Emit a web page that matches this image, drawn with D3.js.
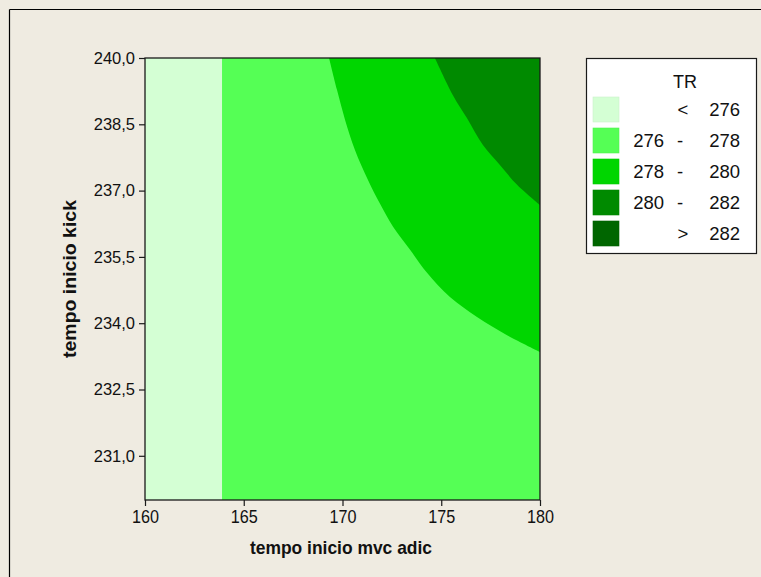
<!DOCTYPE html>
<html>
<head>
<meta charset="utf-8">
<script src="https://cdn.jsdelivr.net/npm/d3@7"></script>
<style>
  html, body { margin: 0; padding: 0; background: #efebe1; }
  svg { display: block; }
</style>
</head>
<body>
<svg id="chart" width="761" height="577"></svg>
<script>
// ---- data ----
const xTicks = [160, 165, 170, 175, 180];
const yTicks = [231, 232.5, 234, 235.5, 237, 238.5, 240];
const xDomain = [160, 180];
const yDomain = [230, 240];

// contour boundaries (x = tempo inicio mvc adic, y = tempo inicio kick)
const boundary276 = [[163.9, 240], [163.9, 230]];
const boundary278 = [
  [169.32, 240], [169.72, 239.28], [170.13, 238.60], [170.63, 237.92],
  [171.29, 237.24], [171.90, 236.70], [172.56, 236.18], [173.42, 235.66],
  [174.28, 235.14], [175.44, 234.59], [176.81, 234.14], [178.33, 233.73],
  [180, 233.35]
];
const boundary280 = [
  [174.68, 240], [175.59, 239.16], [176.30, 238.64], [177.11, 238.03],
  [177.97, 237.58], [178.84, 237.13], [180, 236.67]
];

const legendTitle = "TR";
const legendLow = ["", "276", "278", "280", ""];
const legendSep = ["<", "-", "-", "-", ">"];
const legendHigh = ["276", "278", "280", "282", "282"];
const levelColors = ["#d4ffd4", "#55ff55", "#00d600", "#008a00", "#006600"];

// ---- layout ----
const svg = d3.select("#chart");
const plot = { left: 145, top: 58, right: 540, bottom: 500 };

const x = d3.scaleLinear().domain(xDomain).range([plot.left, plot.right]);
const y = d3.scaleLinear().domain(yDomain).range([plot.bottom, plot.top]);

// outer frame (left + top lines)
svg.append("line").attr("x1", 9.5).attr("y1", 9.5).attr("x2", 761).attr("y2", 9.5)
  .attr("stroke", "#000").attr("stroke-width", 1.2);
svg.append("line").attr("x1", 9.5).attr("y1", 9.5).attr("x2", 9.5).attr("y2", 577)
  .attr("stroke", "#000").attr("stroke-width", 1.2);

// clip
svg.append("clipPath").attr("id", "clip").append("rect")
  .attr("x", plot.left).attr("y", plot.top)
  .attr("width", plot.right - plot.left).attr("height", plot.bottom - plot.top);

const g = svg.append("g").attr("clip-path", "url(#clip)");

// base level
g.append("rect")
  .attr("x", x(xDomain[0])).attr("y", y(yDomain[1]))
  .attr("width", x(xDomain[1]) - x(xDomain[0]))
  .attr("height", y(yDomain[0]) - y(yDomain[1]))
  .attr("fill", levelColors[0]);

const line = d3.line().x(d => x(d[0])).y(d => y(d[1])).curve(d3.curveCatmullRom);
function region(boundary, corners) {
  let p = line(boundary);
  corners.forEach(c => { p += "L" + x(c[0]) + "," + y(c[1]); });
  return p + "Z";
}

g.append("path").attr("d", region(boundary276, [[180, 230], [180, 240]]))
  .attr("fill", levelColors[1]);
g.append("path").attr("d", region(boundary278, [[180, 240]]))
  .attr("fill", levelColors[2]);
g.append("path").attr("d", region(boundary280, [[180, 240]]))
  .attr("fill", levelColors[3]);

// plot border
svg.append("rect")
  .attr("x", plot.left).attr("y", plot.top)
  .attr("width", plot.right - plot.left).attr("height", plot.bottom - plot.top)
  .attr("fill", "none").attr("stroke", "#1a1a1a").attr("stroke-width", 1.3);

// axes
const fmtY = d => d3.format(".1f")(d).replace(".", ",");
const xAxis = svg.append("g").attr("transform", `translate(0,${plot.bottom})`)
  .call(d3.axisBottom(x).tickValues(xTicks).tickSize(6).tickSizeOuter(0).tickPadding(4).tickFormat(d3.format("d")));
xAxis.select(".domain").remove();
xAxis.selectAll("line").attr("stroke", "#1a1a1a").attr("stroke-width", 1.2);
xAxis.selectAll("text")
  .attr("font-family", "'Liberation Sans', Arial, sans-serif")
  .attr("font-size", 19).attr("fill", "#111")
  .attr("textLength", 27).attr("lengthAdjust", "spacingAndGlyphs");

const yAxis = svg.append("g").attr("transform", `translate(${plot.left},0)`)
  .call(d3.axisLeft(y).tickValues(yTicks).tickSize(6).tickSizeOuter(0).tickPadding(4).tickFormat(fmtY));
yAxis.select(".domain").remove();
yAxis.selectAll("line").attr("stroke", "#1a1a1a").attr("stroke-width", 1.2);
yAxis.selectAll("text")
  .attr("font-family", "'Liberation Sans', Arial, sans-serif")
  .attr("font-size", 16.5).attr("fill", "#111");

// axis titles
svg.append("text")
  .attr("x", 341).attr("y", 554)
  .attr("text-anchor", "middle")
  .attr("font-family", "'Liberation Sans', Arial, sans-serif")
  .attr("font-weight", "bold").attr("font-size", 19).attr("fill", "#111")
  .attr("textLength", 182).attr("lengthAdjust", "spacingAndGlyphs")
  .text("tempo inicio mvc adic");

svg.append("text")
  .attr("transform", `translate(76,279) rotate(-90)`)
  .attr("text-anchor", "middle")
  .attr("font-family", "'Liberation Sans', Arial, sans-serif")
  .attr("font-weight", "bold").attr("font-size", 18).attr("fill", "#111")
  .attr("textLength", 158).attr("lengthAdjust", "spacingAndGlyphs")
  .text("tempo inicio kick");

// legend
const lg = svg.append("g");
lg.append("rect").attr("x", 586.5).attr("y", 58.5).attr("width", 170).attr("height", 195)
  .attr("fill", "#fff").attr("stroke", "#1a1a1a").attr("stroke-width", 1.2);
lg.append("text").attr("x", 685).attr("y", 88).attr("text-anchor", "middle")
  .attr("font-family", "'Liberation Sans', Arial, sans-serif")
  .attr("font-size", 18).attr("fill", "#111").text(legendTitle);

const rowTop = [97, 128, 159, 190, 221];
levelColors.forEach((c, i) => {
  const cy = rowTop[i] + 12.5;
  lg.append("rect").attr("x", 593).attr("y", rowTop[i]).attr("width", 26).attr("height", 25)
    .attr("fill", c).attr("stroke", d3.color(c).darker(0.15)).attr("stroke-width", 0.6);
  const t = (xx, anchor, s) => lg.append("text").attr("x", xx).attr("y", cy + 6.5)
    .attr("text-anchor", anchor)
    .attr("font-family", "'Liberation Sans', Arial, sans-serif")
    .attr("font-size", 18.5).attr("fill", "#111").text(s);
  if (legendLow[i]) t(664, "end", legendLow[i]);
  t(i === 0 || i === 4 ? 683 : 680, "middle", legendSep[i]);
  t(740, "end", legendHigh[i]);
});
</script>
</body>
</html>
